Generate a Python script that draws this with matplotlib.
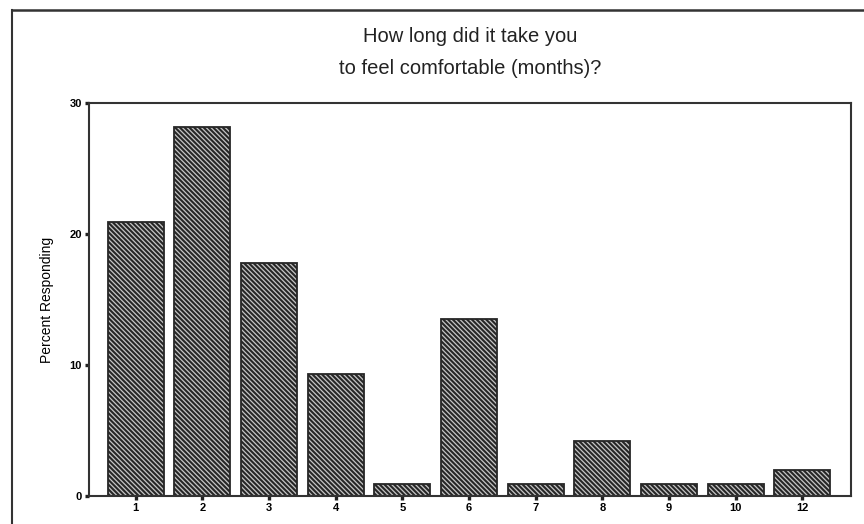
import matplotlib
matplotlib.use("Agg")
import matplotlib.pyplot as plt
from matplotlib.lines import Line2D

plt.rcParams['font.family'] = ['Liberation Sans', 'DejaVu Sans']
plt.rcParams['hatch.linewidth'] = 1.5
plt.rcParams['hatch.color'] = '#262626'

categories = ['1', '2', '3', '4', '5', '6', '7', '8', '9', '10', '12']
percent = [20.9, 28.2, 17.8, 9.3, 0.9, 13.5, 0.9, 4.2, 0.9, 0.9, 2.0]
yticks = [0, 10, 20, 30]

fig = plt.figure(figsize=(8.64, 5.24), dpi=100)
ax = fig.add_axes([89/864, 1-496/524, (851-89)/864, (496-103)/524])

x = list(range(len(categories)))
ax.bar(x, percent, width=0.84, facecolor='#c4c4c4', edgecolor='#262626',
       hatch='\\' * 7, linewidth=1.3)

ax.set_xlim(-0.70, 10.73)
ax.set_ylim(0, 30)
ax.set_xticks(x)
ax.set_xticklabels(categories)
ax.set_yticks(yticks)
for lbl in ax.get_xticklabels() + ax.get_yticklabels():
    lbl.set_fontweight('bold')
    lbl.set_fontsize(8)
ax.tick_params(axis='both', direction='out', length=3, width=2.4, color='#222', pad=2)
for s in ax.spines.values():
    s.set_linewidth(1.5)
    s.set_color('#333')

ax.set_ylabel('Percent Responding', fontsize=10, labelpad=11)

cx = (89 + 851) / 2 / 864
fig.text(cx, 1-37/524, 'How long did it take you', ha='center', va='center', fontsize=14.5, color='#222')
fig.text(cx, 1-68/524, 'to feel comfortable (months)?', ha='center', va='center', fontsize=14.5, color='#222')

fig.add_artist(Line2D([12/864, 12/864], [0, 1-10/524], transform=fig.transFigure, color='#333', lw=1.5))
fig.add_artist(Line2D([12/864, 1], [1-10/524, 1-10/524], transform=fig.transFigure, color='#333', lw=1.8))

fig.savefig('out.png', dpi=100)
